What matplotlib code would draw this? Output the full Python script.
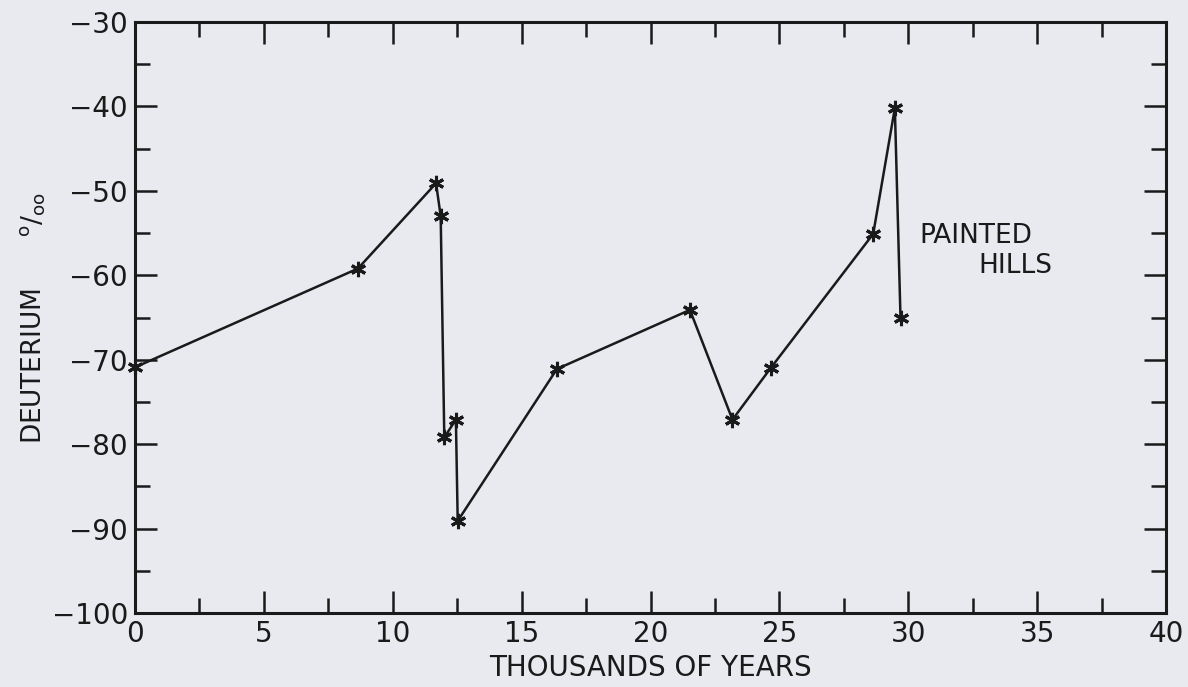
import numpy as np
import matplotlib
matplotlib.use("Agg")
from matplotlib import pyplot as plt
from matplotlib.ticker import MultipleLocator

# values (thousands of years, deuterium per mil)
years = [0.0, 8.65, 11.68, 11.86, 12.0, 12.45, 12.52, 16.37,
         21.53, 23.18, 24.66, 28.64, 29.48, 29.7]
deuterium = [-70.9, -59.2, -49.1, -53.0, -79.2, -77.1, -89.1, -71.1,
             -64.1, -77.1, -71.0, -55.1, -40.2, -65.1]
x_ticks = [0, 5, 10, 15, 20, 25, 30, 35, 40]
y_ticks = [-100, -90, -80, -70, -60, -50, -40, -30]

paper = "#e8eaf0"
ink = "#1a1a1a"
plt.rcParams['font.family'] = ['DejaVu Sans']
plt.rcParams['mathtext.fontset'] = 'dejavusans'

fig = plt.figure(figsize=(11.88, 6.87), dpi=100, facecolor=paper)
ax = fig.add_axes([135/1188, 1-613/687, (1166-135)/1188, (613-22)/687])
ax.set_facecolor(paper)

ax.plot(years, deuterium, color=ink, lw=1.8, marker=(6, 2, 0),
        ms=11, mew=2.2, mec=ink, clip_on=False)

ax.set_xlim(0, 40)
ax.set_ylim(-100, -30)
ax.set_xticks(x_ticks)
ax.set_yticks(y_ticks)
ax.set_xticklabels([str(t) for t in x_ticks])
ax.set_yticklabels([str(t).replace('-', '\u2212') for t in y_ticks])
ax.xaxis.set_minor_locator(MultipleLocator(2.5))
ax.yaxis.set_minor_locator(MultipleLocator(5))
ax.tick_params(which='both', direction='in', top=True, right=True,
               color=ink, width=1.8, labelsize=20, labelcolor=ink)
ax.tick_params(which='major', length=16, pad=5)
ax.tick_params(which='minor', length=11)
for s in ax.spines.values():
    s.set_linewidth(2.2)
    s.set_color(ink)

ax.set_xlabel("THOUSANDS OF YEARS", fontsize=20, color=ink, labelpad=4)
ax.set_ylabel(r"DEUTERIUM      $^{\mathrm{o}}/_{\mathrm{oo}}$", fontsize=19,
              color=ink, labelpad=3)

ax.text(30.45, -55.4, "PAINTED", fontsize=19, color=ink, va='center', ha='left')
ax.text(35.6, -58.9, "HILLS", fontsize=19, color=ink, va='center', ha='right')

fig.savefig("out.png", dpi=100, facecolor=paper)
